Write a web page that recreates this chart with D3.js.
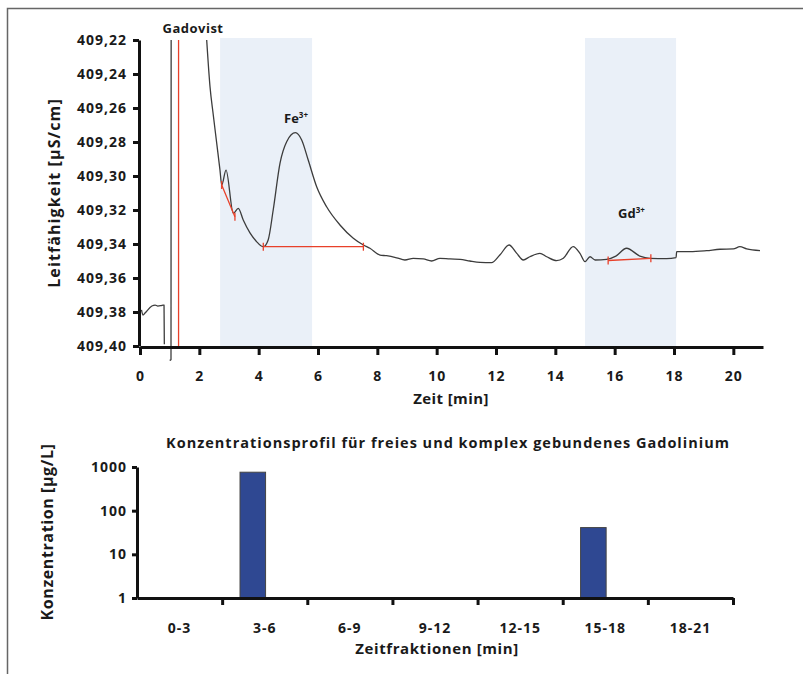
<!DOCTYPE html>
<html>
<head>
<meta charset="utf-8">
<script src="https://cdn.jsdelivr.net/npm/d3@7"></script>
<style>
  body { margin: 0; background: #fff; }
  text { font-family: "Open Sans", sans-serif; font-weight: bold; fill: #1a1a1a; }
</style>
</head>
<body>
<div id="chart"></div>
<script>
// conductivity trace, time in min / value in µS/cm (null = gap)
var traceTime = [0.05, 0.10, 0.17, 0.40, 0.51, 0.60, 0.71, 0.78, 0.81, 0.82,
    null, 1.00, 1.045, 1.05, null,
    2.248, 2.36, 2.47, 2.585, 2.696, 2.754, 2.90, 3.145, 3.313, 3.48, 3.707, 3.93, 4.156,
    4.32, 4.49, 4.72, 4.944, 5.24, 5.45, 5.67, 5.955, 6.29, 6.74, 7.19, 7.53, 7.75, 8.09,
    8.31, 8.65, 8.93, 9.21, 9.55, 9.83, 10.11, 10.45, 10.79, 11.12, 11.46, 11.85, 12.13,
    12.44, 12.70, 12.92, 13.14, 13.48, 13.71, 14.04, 14.27, 14.60, 14.83, 15.00, 15.17,
    15.34, 15.73, 16.04, 16.40, 16.85, 17.19, 17.75, 18.07, 18.09, 18.54, 19.10, 19.55,
    20.00, 20.22, 20.45, 20.90];
var traceValue = [409.3788, 409.3818, 409.3806, 409.3765, 409.3759, 409.3765, 409.3762, 409.3759, 409.3760, 409.3990,
    null, 409.4085, 409.4080, 409.2200, null,
    409.2200, 409.2475, 409.2641, 409.2806, 409.2965, 409.3053, 409.2965, 409.3219, 409.3190, 409.3259, 409.3335, 409.3386, 409.3416,
    409.3376, 409.3200, 409.2924, 409.2798, 409.2745, 409.2788, 409.2906, 409.3063, 409.3181, 409.3288, 409.3366, 409.3406, 409.3425, 409.3465,
    409.3469, 409.3481, 409.3494, 409.3484, 409.3488, 409.3500, 409.3484, 409.3488, 409.3490, 409.3500, 409.3508, 409.3510, 409.3465,
    409.3406, 409.3455, 409.3494, 409.3475, 409.3455, 409.3475, 409.3498, 409.3484, 409.3415, 409.3455, 409.3504, 409.3475,
    409.3494, 409.3490, 409.3471, 409.3425, 409.3471, 409.3484, 409.3486, 409.3480, 409.3445, 409.3445, 409.3439, 409.3431,
    409.3429, 409.3416, 409.3429, 409.3439];

var yTicks = [409.22, 409.24, 409.26, 409.28, 409.30, 409.32, 409.34, 409.36, 409.38, 409.40];
var xTicks = [0, 2, 4, 6, 8, 10, 12, 14, 16, 18, 20];

// shaded fractions [start, end] in min
var bands = [[2.7, 5.8], [15.0, 18.07]];
// peak integration baselines [t1, v1, t2, v2]
var baselines = [[2.754, 409.3053, 3.20, 409.3240], [4.156, 409.3416, 7.53, 409.3416], [15.78, 409.3497, 17.22, 409.3484]];
var injectTime = 1.30;

// concentration profile
var fractions = ["0-3", "3-6", "6-9", "9-12", "12-15", "15-18", "18-21"];
var concentration = [0, 760, 0, 0, 0, 41, 0];
var concTicks = [1, 10, 100, 1000];

var W = 803, H = 674;
var svg = d3.select("#chart").append("svg")
    .attr("width", W)
    .attr("height", H);

// frame
svg.append("path")
    .attr("d", "M7.5,674V8.5H803")
    .attr("fill", "none")
    .attr("stroke", "#666")
    .attr("stroke-width", 1.5);

// ---------- top chart ----------
var x = d3.scaleLinear().domain([0, 21]).range([140, 763]);
var y = d3.scaleLinear().domain([409.22, 409.40]).range([40, 346]);

svg.selectAll(".band")
    .data(bands)
    .enter()
    .append("rect")
    .attr("x", function (d) { return x(d[0]); })
    .attr("y", y(409.22) - 2)
    .attr("width", function (d) { return x(d[1]) - x(d[0]); })
    .attr("height", y(409.40) - y(409.22) + 2)
    .attr("fill", "#eaf0f8");

var trace = traceTime.map(function (t, i) { return [t, traceValue[i]]; });
var line = d3.line()
    .defined(function (d) { return d[0] !== null; })
    .curve(d3.curveMonotoneX)
    .x(function (d) { return x(d[0]); })
    .y(function (d) { return y(d[1]); });

svg.append("path")
    .datum(trace)
    .attr("d", line)
    .attr("fill", "none")
    .attr("stroke", "#3c3c3c")
    .attr("stroke-width", 1.3)
    .attr("stroke-linejoin", "round");

// injection marker
svg.append("line")
    .attr("x1", x(injectTime)).attr("x2", x(injectTime))
    .attr("y1", y(409.22)).attr("y2", y(409.40))
    .attr("stroke", "#e8402a")
    .attr("stroke-width", 1.3);

// baselines with end caps
var bl = svg.selectAll(".baseline")
    .data(baselines)
    .enter()
    .append("g")
    .attr("class", "baseline");

bl.append("line")
    .attr("x1", function (d) { return x(d[0]); })
    .attr("y1", function (d) { return y(d[1]); })
    .attr("x2", function (d) { return x(d[2]); })
    .attr("y2", function (d) { return y(d[3]); })
    .attr("stroke", "#e8402a")
    .attr("stroke-width", 1.3);

[[0, 1], [2, 3]].forEach(function (k) {
    bl.append("line")
        .attr("x1", function (d) { return x(d[k[0]]); })
        .attr("x2", function (d) { return x(d[k[0]]); })
        .attr("y1", function (d) { return y(d[k[1]]) - 4; })
        .attr("y2", function (d) { return y(d[k[1]]) + 4; })
        .attr("stroke", "#e8402a")
        .attr("stroke-width", 1.3);
});

var yAxis = svg.append("g")
    .attr("transform", "translate(139,0)")
    .call(d3.axisLeft(y).tickValues(yTicks).tickSize(6).tickSizeOuter(0).tickPadding(6)
        .tickFormat(function (d) { return d.toFixed(2).replace(".", ","); }));

var xAxis = svg.append("g")
    .attr("transform", "translate(0,347)")
    .call(d3.axisBottom(x).tickValues(xTicks).tickSize(8).tickSizeOuter(0).tickPadding(16));

[yAxis, xAxis].forEach(function (a) {
    a.select(".domain").attr("stroke", "#111").attr("stroke-width", 3);
    a.selectAll(".tick line").attr("stroke", "#111").attr("stroke-width", 3);
    a.selectAll("text").style("font-size", "14px").style("letter-spacing", "1px")
        .style("font-family", "'Open Sans', sans-serif").attr("fill", "#1a1a1a");
});

svg.append("text")
    .attr("x", 193).attr("y", 33)
    .attr("text-anchor", "middle")
    .style("font-size", "13px")
    .style("letter-spacing", "0.5px")
    .text("Gadovist");

function ion(px, py, base) {
    var t = svg.append("text")
        .attr("x", px).attr("y", py)
        .style("font-size", "13px");
    t.append("tspan").text(base);
    t.append("tspan").attr("dy", -5).style("font-size", "8px").text("3+");
}
ion(284, 123, "Fe");
ion(618, 218, "Gd");

svg.append("text")
    .attr("x", 451).attr("y", 404)
    .attr("text-anchor", "middle")
    .style("font-size", "15px")
    .style("letter-spacing", "0.4px")
    .text("Zeit [min]");

svg.append("text")
    .attr("transform", "translate(60,193) rotate(-90)")
    .attr("text-anchor", "middle")
    .style("font-size", "16px")
    .style("letter-spacing", "1.1px")
    .text("Leitfähigkeit [µS/cm]");

// ---------- bottom chart ----------
var xb = d3.scaleBand().domain(fractions).range([137, 733]);
var yb = d3.scaleLog().domain([1, 1000]).range([598, 467]);

svg.append("text")
    .attr("x", 448).attr("y", 448)
    .attr("text-anchor", "middle")
    .style("font-size", "14.5px")
    .style("letter-spacing", "1px")
    .text("Konzentrationsprofil für freies und komplex gebundenes Gadolinium");

svg.selectAll(".bar")
    .data(fractions.map(function (f, i) { return { f: f, v: concentration[i] }; })
        .filter(function (d) { return d.v > 0; }))
    .enter()
    .append("rect")
    .attr("x", function (d) { return xb(d.f) + xb.bandwidth() * 0.21; })
    .attr("width", xb.bandwidth() * 0.3)
    .attr("y", function (d) { return yb(d.v); })
    .attr("height", function (d) { return yb(1) - yb(d.v); })
    .attr("fill", "#2f4892")
    .attr("stroke", "#444")
    .attr("stroke-width", 1);

var ybAxis = svg.append("g")
    .attr("transform", "translate(137,0)")
    .call(d3.axisLeft(yb).tickValues(concTicks).tickSize(5).tickSizeOuter(0).tickPadding(5)
        .tickFormat(d3.format("d")));

var xbTicks = d3.scaleLinear().domain([0, fractions.length]).range([137, 733]);
var xbAxis = svg.append("g")
    .attr("transform", "translate(0,598)")
    .call(d3.axisBottom(xbTicks).tickValues(d3.range(1, fractions.length + 1)).tickSize(7)
        .tickSizeOuter(0).tickFormat(""));

var xbLabels = svg.append("g")
    .attr("transform", "translate(0,598)")
    .call(d3.axisBottom(xb).tickSize(0).tickPadding(25));
xbLabels.select(".domain").remove();

[ybAxis, xbAxis].forEach(function (a) {
    a.select(".domain").attr("stroke", "#111").attr("stroke-width", 3);
    a.selectAll(".tick line").attr("stroke", "#111").attr("stroke-width", 3);
});
[ybAxis, xbLabels].forEach(function (a) {
    a.selectAll("text").style("font-size", "14px").style("letter-spacing", "1px")
        .style("font-family", "'Open Sans', sans-serif").attr("fill", "#1a1a1a");
});

svg.append("text")
    .attr("x", 437).attr("y", 654)
    .attr("text-anchor", "middle")
    .style("font-size", "15px")
    .style("letter-spacing", "0.6px")
    .text("Zeitfraktionen [min]");

svg.append("text")
    .attr("transform", "translate(53,532) rotate(-90)")
    .attr("text-anchor", "middle")
    .style("font-size", "16px")
    .style("letter-spacing", "0.6px")
    .text("Konzentration [µg/L]");
</script>
</body>
</html>
